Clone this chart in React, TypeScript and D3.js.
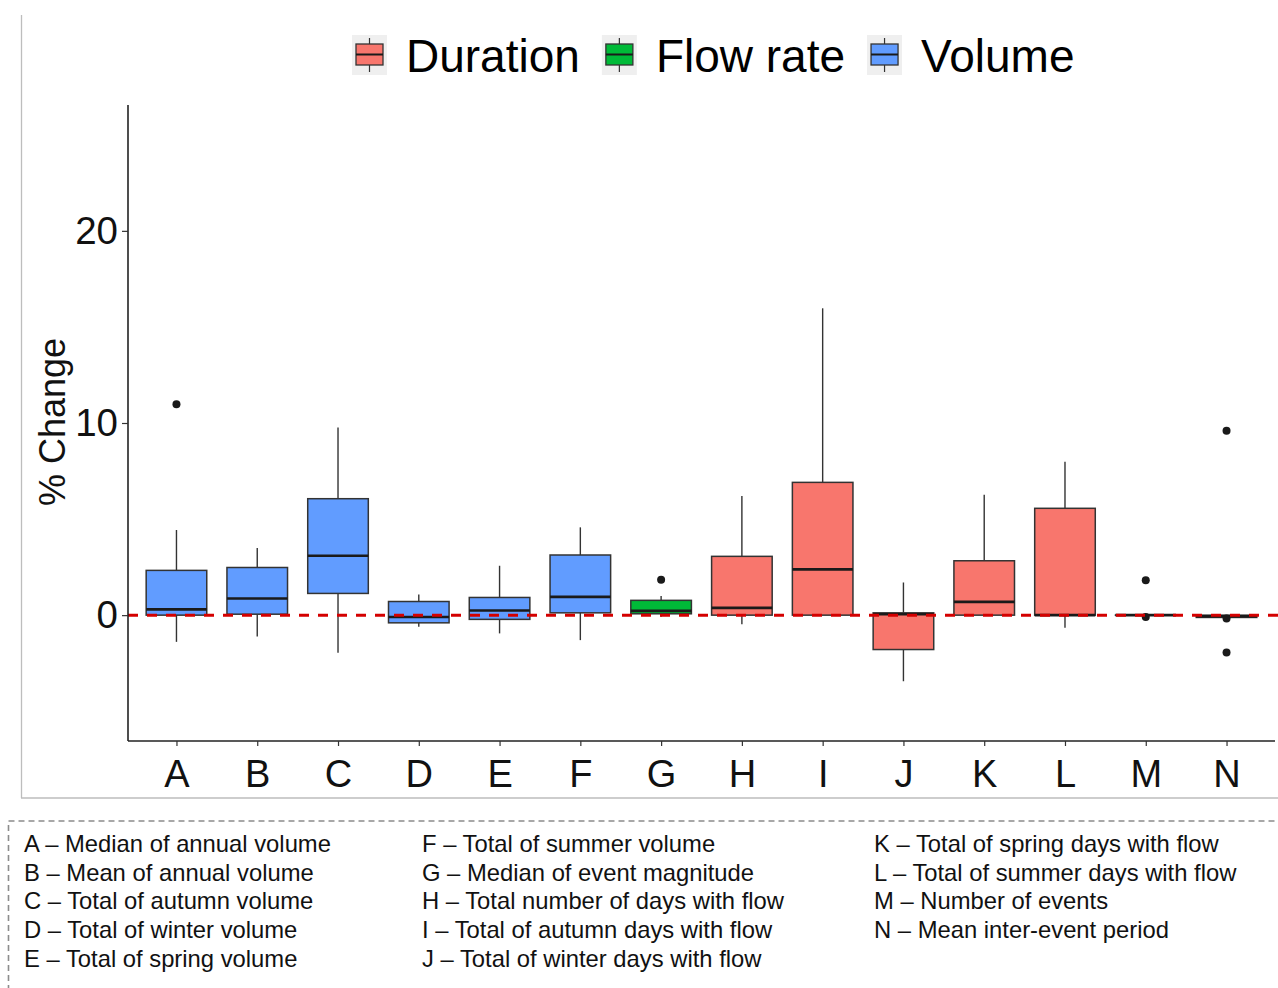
import React, { useEffect, useRef } from "react";
import * as d3 from "d3";

// Indicator codes on the x axis
const categories = ["A", "B", "C", "D", "E", "F", "G", "H", "I", "J", "K", "L", "M", "N"];
// Indicator group of each code
const groups = [
  "Volume", "Volume", "Volume", "Volume", "Volume", "Volume",
  "Flow rate",
  "Duration", "Duration", "Duration", "Duration", "Duration", "Duration", "Duration",
];
// Box-plot statistics (% change)
const whiskerLow = [-1.39, -1.11, -1.96, -0.61, -0.95, -1.3, -0.09, -0.47, 0, -3.44, 0, -0.66, 0, -0.12];
const q1 = [0.0, 0.05, 1.13, -0.4, -0.22, 0.12, 0.07, 0.0, 0, -1.79, 0, 0, 0, -0.12];
const median = [0.3, 0.87, 3.09, -0.1, 0.24, 0.95, 0.22, 0.38, 2.38, 0.05, 0.69, 0, 0, -0.06];
const q3 = [2.33, 2.48, 6.06, 0.71, 0.92, 3.13, 0.77, 3.06, 6.91, 0.12, 2.83, 5.56, 0, 0];
const whiskerHigh = [4.43, 3.49, 9.76, 1.08, 2.57, 4.57, 1.0, 6.2, 15.97, 1.7, 6.27, 7.98, 0, 0];
const outliers: number[][] = [[10.97], [], [], [], [], [], [1.84], [], [], [], [], [], [1.82, -0.1], [9.6, -0.18, -1.94]];

const yTicks = [0, 10, 20];
const legendGroups = ["Duration", "Flow rate", "Volume"];
const groupColors = ["#F8766D", "#00BA38", "#619CFF"];

// Description of each indicator code, in three columns
const descCol1 = [
  "A – Median of annual volume",
  "B – Mean of annual volume",
  "C – Total of autumn volume",
  "D – Total of winter volume",
  "E – Total of spring volume",
];
const descCol2 = [
  "F – Total of summer volume",
  "G – Median of event magnitude",
  "H – Total number of days with flow",
  "I – Total of autumn days with flow",
  "J – Total of winter days with flow",
];
const descCol3 = [
  "K – Total of spring days with flow",
  "L – Total of summer days with flow",
  "M – Number of events",
  "N – Mean inter-event period",
];

const W = 1278;
const H = 988;
const FONT = "'Liberation Sans', Arial, sans-serif";

export default function App() {
  const ref = useRef<SVGSVGElement | null>(null);

  useEffect(() => {
    const svg = d3.select(ref.current);
    svg.selectAll("*").remove();

    const plot = { left: 128, right: 1275, top: 105, bottom: 741 };
    const x = d3.scalePoint<string>().domain(categories).range([plot.left, plot.right]).padding(0.6);
    const y = d3.scaleLinear().domain([-6.55, 26.55]).range([plot.bottom, plot.top]);
    const color = d3.scaleOrdinal<string, string>().domain(legendGroups).range(groupColors);
    const boxW = x.step() * 0.75;

    // outer panel frame (left and bottom edges)
    svg.append("line").attr("x1", 21.5).attr("x2", 21.5).attr("y1", 15).attr("y2", 798)
      .attr("stroke", "#bdbdbd").attr("stroke-width", 1.3);
    svg.append("line").attr("x1", 21).attr("x2", W).attr("y1", 798).attr("y2", 798)
      .attr("stroke", "#bdbdbd").attr("stroke-width", 1.3);

    // boxes
    const g = svg.append("g");
    categories.forEach((c, i) => {
      const cx = x(c)!;
      const col = color(groups[i]);
      const stroke = "#333333";
      g.append("line").attr("x1", cx).attr("x2", cx).attr("y1", y(q3[i])).attr("y2", y(whiskerHigh[i]))
        .attr("stroke", stroke).attr("stroke-width", 1.4);
      g.append("line").attr("x1", cx).attr("x2", cx).attr("y1", y(q1[i])).attr("y2", y(whiskerLow[i]))
        .attr("stroke", stroke).attr("stroke-width", 1.4);
      g.append("rect").attr("x", cx - boxW / 2).attr("width", boxW)
        .attr("y", y(q3[i])).attr("height", Math.max(0.01, y(q1[i]) - y(q3[i])))
        .attr("fill", col).attr("stroke", stroke).attr("stroke-width", 1.5);
      g.append("line").attr("x1", cx - boxW / 2).attr("x2", cx + boxW / 2)
        .attr("y1", y(median[i])).attr("y2", y(median[i]))
        .attr("stroke", "#1a1a1a").attr("stroke-width", 2.6);
      outliers[i].forEach((v) => {
        g.append("circle").attr("cx", cx).attr("cy", y(v)).attr("r", 4).attr("fill", "#1a1a1a");
      });
    });

    // zero reference line
    svg.append("line").attr("x1", plot.left).attr("x2", W).attr("y1", y(0)).attr("y2", y(0))
      .attr("stroke", "#d40000").attr("stroke-width", 3).attr("stroke-dasharray", "10,9");

    // axes
    const yAxis = svg.append("g").attr("transform", `translate(${plot.left},0)`)
      .call(d3.axisLeft(y).tickValues(yTicks).tickSize(6).tickPadding(4).tickFormat(d3.format("d")));
    yAxis.select(".domain").attr("stroke", "#222").attr("stroke-width", 1.6)
      .attr("d", `M0,${plot.top}V${plot.bottom}`);
    yAxis.selectAll(".tick line").attr("stroke", "#333").attr("stroke-width", 1.2);
    yAxis.selectAll(".tick text").attr("font-family", FONT).attr("font-size", 38.5).attr("fill", "#111");

    const xAxis = svg.append("g").attr("transform", `translate(0,${plot.bottom})`)
      .call(d3.axisBottom(x).tickSize(5).tickPadding(14));
    xAxis.select(".domain").attr("stroke", "#222").attr("stroke-width", 1.6)
      .attr("d", `M${plot.left},0H${plot.right}`);
    xAxis.selectAll(".tick line").attr("stroke", "#333").attr("stroke-width", 1.2);
    xAxis.selectAll(".tick text").attr("font-family", FONT).attr("font-size", 38).attr("fill", "#111");

    // y axis title
    svg.append("text").attr("transform", `translate(65,422) rotate(-90)`)
      .attr("text-anchor", "middle").attr("font-family", FONT).attr("font-size", 36).attr("fill", "#111")
      .text("% Change");

    // legend
    const leg = svg.append("g");
    let lx = 352;
    legendGroups.forEach((name, i) => {
      const k = leg.append("g").attr("transform", `translate(${lx},35)`);
      k.append("rect").attr("width", 35).attr("height", 40).attr("fill", "#efefef");
      k.append("line").attr("x1", 17.5).attr("x2", 17.5).attr("y1", 3).attr("y2", 37)
        .attr("stroke", "#333").attr("stroke-width", 1.2);
      k.append("rect").attr("x", 4).attr("y", 9).attr("width", 27).attr("height", 21)
        .attr("fill", groupColors[i]).attr("stroke", "#333").attr("stroke-width", 1.3);
      k.append("line").attr("x1", 4).attr("x2", 31).attr("y1", 19.5).attr("y2", 19.5)
        .attr("stroke", "#1a1a1a").attr("stroke-width", 2);
      const t = leg.append("text").attr("x", lx + 54).attr("y", 72)
        .attr("font-family", FONT).attr("font-size", 46).attr("fill", "#000").text(name);
      const tw = (t.node() as SVGTextElement).getComputedTextLength();
      lx = lx + 54 + tw + 22;
    });

    // description box
    svg.append("rect").attr("x", 8.5).attr("y", 821).attr("width", 1300).attr("height", 300)
      .attr("fill", "none").attr("stroke", "#8c8c8c").attr("stroke-width", 1.6).attr("stroke-dasharray", "6,4");
    const cols = [descCol1, descCol2, descCol3];
    const colX = [24, 422, 874];
    cols.forEach((lines, ci) => {
      lines.forEach((s, ri) => {
        svg.append("text").attr("x", colX[ci]).attr("y", 852 + ri * 28.7)
          .attr("font-family", FONT).attr("font-size", 23.8).attr("fill", "#111").text(s);
      });
    });
  }, []);

  return (
    <svg
      ref={ref}
      width={W}
      height={H}
      style={{ position: "absolute", left: 0, top: 0, display: "block", background: "#fff" }}
    />
  );
}
